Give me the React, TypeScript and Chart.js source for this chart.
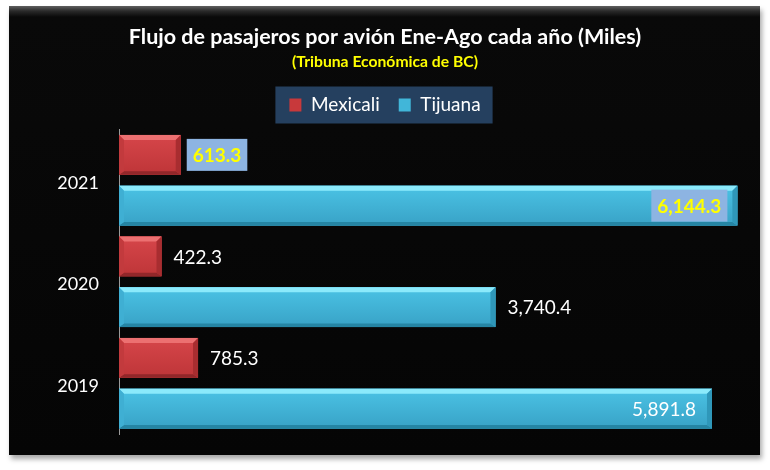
import React, { useEffect, useRef } from 'react';
import { Chart, registerables } from 'chart.js';

Chart.register(...registerables);

// ---- data ----
const years = ['2021', '2020', '2019'];
const seriesNames = ['Mexicali', 'Tijuana'];
const mexicali = [613.3, 422.3, 785.3];
const tijuana = [6144.3, 3740.4, 5891.8];
const titleText = 'Flujo de pasajeros por avión Ene-Ago cada año (Miles)';
const subtitleText = '(Tribuna Económica de BC)';
const highlightYear = '2021';
const xMax = 6200;
const insideThreshold = 5000;

const FAMILY = 'Lato';

const PAL = [
  { base: '#C8393B', light: '#D6464A', dark: '#BE3538', top: '#EC7071', bottom: '#92272A', side: '#A82D30', left: '#C23A3D' },
  { base: '#41B6D9', light: '#4BC3E5', dark: '#38A2C6', top: '#8BEAFB', bottom: '#2585A4', side: '#2F97B9', left: '#3FAFD3' },
];

function fitSize(text: string, weight: string, target: number): number {
  const c = document.createElement('canvas').getContext('2d') as CanvasRenderingContext2D;
  c.font = `${weight} 100px ${FAMILY}`;
  const w = c.measureText(text).width || 1;
  return Math.round((1000 * target) / w) / 10;
}

function fmt(v: number): string {
  return v.toLocaleString('en-US', { minimumFractionDigits: 1, maximumFractionDigits: 1 });
}

const legendBoxPlugin = {
  id: 'legendBox',
  beforeDraw(chart: any) {
    const lg = chart.legend;
    if (!lg || !lg.legendHitBoxes || !lg.legendHitBoxes.length) return;
    const hb = lg.legendHitBoxes;
    const first = hb[0];
    const last = hb[hb.length - 1];
    const left = first.left - 14;
    const right = last.left + last.width + 12;
    const cy = first.top + first.height / 2;
    const ctx = chart.ctx;
    ctx.save();
    ctx.fillStyle = '#25405F';
    ctx.fillRect(left, cy - 18.5, right - left, 37);
    ctx.restore();
  },
};

const barDecorPlugin = {
  id: 'barDecor',
  afterDatasetsDraw(chart: any) {
    const ctx: CanvasRenderingContext2D = chart.ctx;
    ctx.save();
    chart.data.datasets.forEach((ds: any, i: number) => {
      const meta = chart.getDatasetMeta(i);
      const p = PAL[i];
      meta.data.forEach((bar: any) => {
        const { x, y, base, height } = bar.getProps(['x', 'y', 'base', 'height'], true);
        const L = Math.min(base, x);
        const R = Math.max(base, x);
        const T = y - height / 2;
        const B = y + height / 2;
        const b = Math.min(5, (R - L) / 2);
        const bb = Math.min(3.5, (R - L) / 2);
        const g = ctx.createLinearGradient(0, T, 0, B);
        g.addColorStop(0, p.light);
        g.addColorStop(1, p.dark);
        ctx.fillStyle = g;
        ctx.fillRect(L, T, R - L, B - T);
        const poly = (pts: number[][], color: string) => {
          ctx.beginPath();
          ctx.moveTo(pts[0][0], pts[0][1]);
          for (let k = 1; k < pts.length; k++) ctx.lineTo(pts[k][0], pts[k][1]);
          ctx.closePath();
          ctx.fillStyle = color;
          ctx.fill();
        };
        poly([[L, T], [R, T], [R - b, T + b], [L + b, T + b]], p.top);
        poly([[L, B], [R, B], [R - b, B - bb], [L + b, B - bb]], p.bottom);
        poly([[R, T], [R, B], [R - b, B - bb], [R - b, T + b]], p.side);
        poly([[L, T], [L, B], [L + b, B - bb], [L + b, T + b]], p.left);
      });
    });

    // value labels
    chart.data.datasets.forEach((ds: any, i: number) => {
      const meta = chart.getDatasetMeta(i);
      meta.data.forEach((bar: any, j: number) => {
        const value = ds.data[j];
        const { x, y } = bar.getProps(['x', 'y'], true);
        const hl = chart.data.labels[j] === highlightYear;
        const inside = value > insideThreshold;
        const text = fmt(value);
        ctx.font = `${hl ? 'bold ' : ''}19px ${FAMILY}`;
        const w = ctx.measureText(text).width;
        const tl = inside ? x - 16 - w : x + 12;
        if (hl) {
          ctx.fillStyle = '#8DB4E2';
          ctx.fillRect(tl - 6, y - 16, w + 12, 32);
        }
        ctx.fillStyle = hl ? '#FFFF00' : '#FFFFFF';
        ctx.textAlign = 'left';
        ctx.textBaseline = 'middle';
        ctx.fillText(text, tl, y + 1);
      });
    });
    ctx.restore();
  },
};

export default function App() {
  const ref = useRef<HTMLCanvasElement | null>(null);

  useEffect(() => {
    if (!ref.current) return;
    const ts = fitSize(titleText, 'bold', 512);
    const ss = fitSize(subtitleText, 'bold', 186);
    const titleTop = 37.5 - ts * 0.6;
    const titleEnd = 37.5 + ts * 0.6;
    const subTop = 61.5 - ss * 0.6 - titleEnd;
    const subBottom = 76.5 - (61.5 + ss * 0.6);

    Chart.defaults.font.family = FAMILY;
    Chart.defaults.color = '#FFFFFF';

    const chart = new Chart(ref.current, {
      type: 'bar',
      data: {
        labels: years,
        datasets: [
          { label: seriesNames[0], data: mexicali, backgroundColor: PAL[0].base, borderWidth: 0 },
          { label: seriesNames[1], data: tijuana, backgroundColor: PAL[1].base, borderWidth: 0 },
        ],
      },
      options: {
        indexAxis: 'y',
        responsive: false,
        animation: false,
        devicePixelRatio: 1,
        layout: { padding: { top: 0, bottom: 36, left: 27, right: 27 } },
        datasets: { bar: { categoryPercentage: 1.0, barPercentage: 0.787 } },
        scales: {
          x: {
            position: 'top',
            min: 0,
            max: xMax,
            ticks: { display: false },
            grid: { display: false, drawTicks: false },
            border: { display: false },
            afterFit: (s: any) => {
              s.height = 5;
            },
          },
          y: {
            ticks: { color: '#FFFFFF', font: { size: 18, family: FAMILY }, padding: 20, labelOffset: 2.5 },
            grid: { display: false, drawTicks: false },
            border: { display: true, color: '#9A9A9A', width: 1 },
            afterFit: (s: any) => {
              s.width = 92;
            },
          },
        },
        plugins: {
          title: {
            display: true,
            text: titleText,
            color: '#FFFFFF',
            font: { size: ts, weight: 'bold', family: FAMILY },
            padding: { top: titleTop, bottom: 0 },
          },
          subtitle: {
            display: true,
            text: subtitleText,
            color: '#FFFF00',
            font: { size: ss, weight: 'bold', family: FAMILY },
            padding: { top: subTop, bottom: subBottom },
          },
          legend: {
            display: true,
            position: 'top',
            labels: {
              color: '#FFFFFF',
              font: { size: 19, family: FAMILY },
              boxWidth: 12,
              boxHeight: 13,
              padding: 19,
            },
          },
          tooltip: { enabled: false },
        },
      },
      plugins: [legendBoxPlugin, barDecorPlugin],
    } as any);
    return () => chart.destroy();
  }, []);

  return (
    <div style={{ position: 'absolute', left: 0, top: 0, width: 770, height: 470, background: '#FFFFFF', overflow: 'hidden' }}>
      <div
        style={{
          position: 'absolute',
          left: 9,
          top: 6,
          width: 751,
          height: 449,
          background: 'linear-gradient(to bottom, #606060 0px, #2a2a2a 5px, #090909 11px, #050505 100%)',
          boxShadow: '2px 4px 5px rgba(0,0,0,0.35)',
        }}
      />
      <canvas ref={ref} width={770} height={470} style={{ position: 'absolute', left: 0, top: 0, width: 770, height: 470 }} />
    </div>
  );
}
